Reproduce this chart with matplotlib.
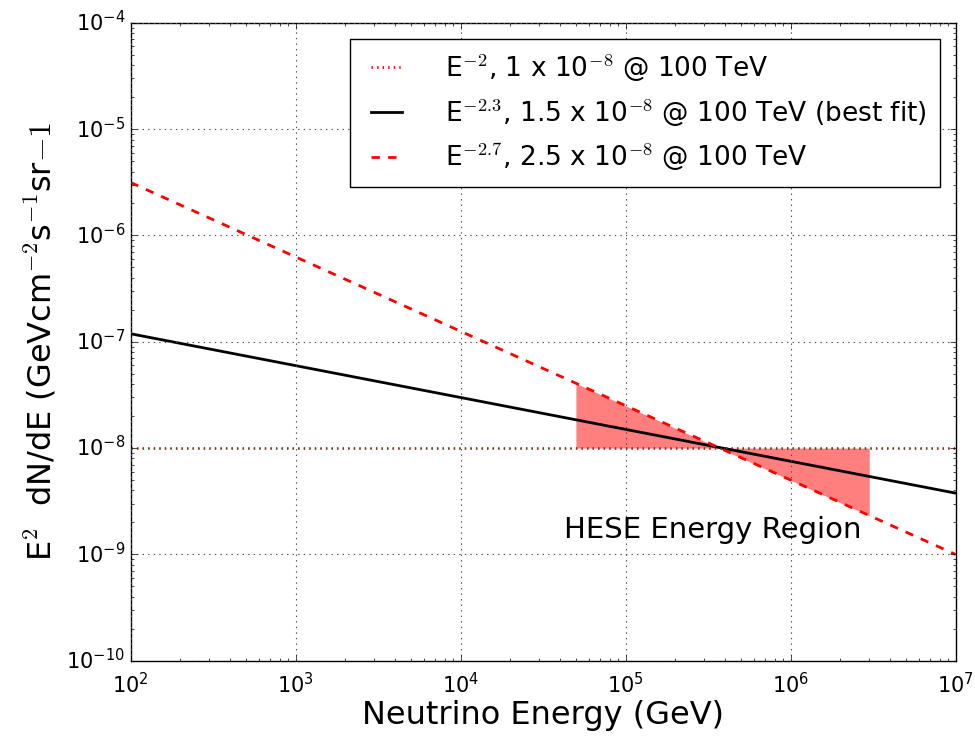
import numpy as np
import matplotlib
matplotlib.use("Agg")
from matplotlib import pyplot as plt

# spectrum endpoints (straight lines in log-log)
energy = [1e2, 1e7]
fluxE2 = [1e-8, 1e-8]
fluxE23 = [1.19e-7, 3.77e-9]
fluxE27 = [3.15e-6, 1.0e-9]

# HESE energy band and where the E^-2.7 line sits at its edges
heseEnergy = [5e4, 3e6]
heseE2 = [1e-8, 1e-8]
heseE27 = [4.06e-8, 2.31e-9]

labelE2 = "E$^{-2}$, 1 x 10$^{-8}$ @ 100 TeV"
labelE23 = "E$^{-2.3}$, 1.5 x 10$^{-8}$ @ 100 TeV (best fit)"
labelE27 = "E$^{-2.7}$, 2.5 x 10$^{-8}$ @ 100 TeV"

plt.style.use("classic")
plt.rcParams["axes.unicode_minus"] = False
plt.rcParams["font.family"] = ["DejaVu Sans"]

fig = plt.figure(figsize=(9.75, 7.39), dpi=100, facecolor="white")
ax = fig.add_axes([0.134, 0.106, 0.846, 0.863])

ax.plot(energy, fluxE2, color="red", linestyle=":", linewidth=2, label=labelE2)
ax.plot(energy, fluxE23, color="black", linestyle="-", linewidth=2, label=labelE23)
ax.plot(energy, fluxE27, color="red", linestyle="--", linewidth=2, label=labelE27)
ax.fill_between(heseEnergy, heseE2, heseE27, color="red", alpha=0.5, linewidth=0)

ax.set_xscale("log")
ax.set_yscale("log")
ax.set_xlim(1e2, 1e7)
ax.set_ylim(1e-10, 1e-4)
ax.grid(True, which="major", color="0.3", linestyle=":", linewidth=0.8)
ax.tick_params(labelsize=15)
ax.tick_params(axis="x", pad=8)

ax.text(3.4e5, 1.7e-9, "HESE Energy Region", fontsize=21, ha="center", va="center")

ax.set_xlabel("Neutrino Energy (GeV)", fontsize=23, labelpad=2)
ax.set_ylabel("E$^2$  dN/dE (GeVcm$^{-2}$s$^{-1}$sr$-1$", fontsize=23, labelpad=6)

leg = ax.legend(loc="upper right", fontsize=19, frameon=True, fancybox=False,
                handlelength=1.8, borderpad=0.5, labelspacing=0.5, handletextpad=1.3,
                borderaxespad=0.6)
leg.get_frame().set_edgecolor("black")

fig.savefig("out.png", dpi=100, facecolor="white")
